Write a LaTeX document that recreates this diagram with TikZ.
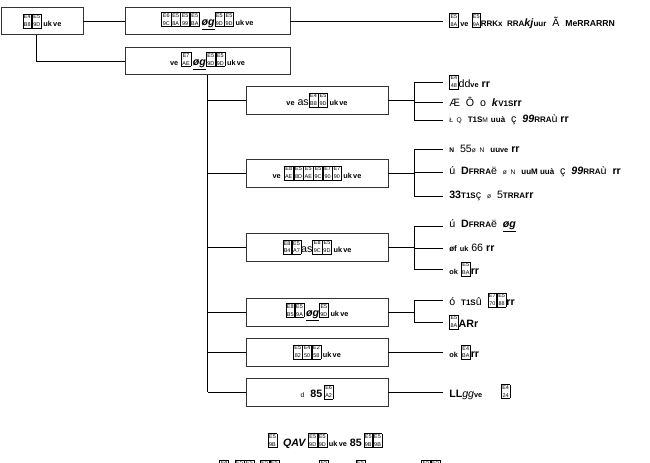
\documentclass[tikz,border=0pt]{standalone}
\usepackage{fontspec}
\setmainfont{Liberation Sans}
\setsansfont{Liberation Sans}
\newcommand{\gb}[2]{{\setlength{\fboxsep}{0.6pt}\setlength{\fboxrule}{0.4pt}\fbox{\fontsize{4.1}{3.9}\selectfont\shortstack{#1\\#2}}}}
\newcommand{\uv}{{\fontsize{5.5}{6}\selectfont\bfseries uk\,ve}}
\newcommand{\og}{\underline{\textbf{\textit{\o g}}}}
\tikzset{
  modbox/.style={draw=black!80, line width=0.6pt, minimum height=20.5pt, inner sep=0pt},
  leaf/.style={anchor=west, inner sep=0pt},
  link/.style={line width=0.6pt}
}
\begin{document}
\begin{tikzpicture}[x=0.75pt,y=-0.75pt,font=\sffamily\fontsize{8}{9}\selectfont]
        \useasboundingbox (0,0) rectangle (650,462);

        % Root and first level
        \node[modbox, minimum width=61.5pt] (root) at (42,21) {\gb{E4}{B8}\gb{E5}{9D}\,\uv};
        \node[modbox, minimum width=123.75pt] (modA) at (207.5,21) {\gb{E6}{9C}\gb{E5}{8A}\gb{E5}{99}\gb{E5}{BA}\,\og\gb{E5}{9D}\gb{E5}{9D}\,\uv};
        \node[modbox, minimum width=123.75pt] (modB) at (207.5,61) {{\fontsize{5.5}{6}\selectfont\bfseries ve}\ \gb{E7}{AE}\,\og\gb{E5}{9D}\gb{E5}{9D}\,\uv};
        \node[leaf] (leafA) at (449,21) {\gb{E5}{8A}\,{\fontsize{5.5}{6}\selectfont\bfseries ve}\ \gb{E5}{9A}{\bfseries\fontsize{6}{6}\selectfont RRKx\ \ RRA}\textbf{\textit{kj}}{\fontsize{6}{6}\selectfont\bfseries uur}\ \ \~A\ \ {\bfseries\fontsize{6.5}{7}\selectfont MeRRARRN}};

        % Submodules
        \node[modbox, minimum width=106.5pt, minimum height=21pt] (sub1) at (317,100) {{\fontsize{5.5}{6}\selectfont\bfseries ve}\ as\gb{E4}{B8}\gb{E5}{9D}\,\uv};
        \node[modbox, minimum width=106.5pt, minimum height=21pt] (sub2) at (317,173) {{\fontsize{5.5}{6}\selectfont\bfseries ve}\ \gb{E8}{AE}\gb{E5}{8D}\gb{E5}{AE}\gb{E5}{9C}\gb{E7}{90}\gb{E7}{90}\,\uv};
        \node[modbox, minimum width=106.5pt, minimum height=21pt] (sub3) at (317,247) {\gb{E8}{B4}\gb{E5}{A7}as\gb{E8}{9C}\gb{E5}{9D}\,\uv};
        \node[modbox, minimum width=106.5pt, minimum height=21pt] (sub4) at (317,312) {\gb{E8}{B5}\gb{E5}{9A}\,\og\gb{E5}{9D}\,\uv};
        \node[modbox, minimum width=106.5pt, minimum height=21pt] (sub5) at (317,352) {\gb{E5}{82}\gb{E4}{50}\gb{E2}{58}\,\uv};
        \node[modbox, minimum width=106.5pt, minimum height=21pt] (sub6) at (317,392) {{\fontsize{5}{5}\selectfont d}\ \ \textbf{85}\,\gb{E6}{A2}};

        % Leaves
        \node[leaf] (l11) at (449,82) {\gb{E4}{48}dd{\fontsize{5.5}{6}\selectfont\bfseries ve}\ \textbf{rr}};
        \node[leaf] (l12) at (449,102) {\AE\ \ \^O\ \ o\ \ \textbf{\textit{k}}{\bfseries\fontsize{6}{6}\selectfont V1S}\textbf{rr}};
        \node[leaf] (l13) at (449,120) {{\fontsize{5}{5}\selectfont \L\ \ Q}\ \ {\bfseries\fontsize{6}{6}\selectfont T1S}{\fontsize{5}{5}\selectfont M}\ {\fontsize{6}{6}\selectfont\bfseries uu\`a}\ \ \c{c}\ \ \textbf{\textit{99}}{\bfseries\fontsize{6}{6}\selectfont RRA}\`u\ \textbf{rr}};
        \node[leaf] (l21) at (449,149) {{\fontsize{5}{5}\selectfont\bfseries N}\ \ 55{\fontsize{5}{5}\selectfont\o\ \ N}\ \ {\fontsize{6}{6}\selectfont\bfseries uu}{\fontsize{5.5}{6}\selectfont\bfseries ve}\ \textbf{rr}};
        \node[leaf] (l22) at (449,172) {\'u\ \ \textbf{D}{\bfseries\fontsize{6}{6}\selectfont FRRA}\"e\ \ {\fontsize{5}{5}\selectfont\o\ \ N}\ \ {\fontsize{6}{6}\selectfont\bfseries uuM\ uu\`a}\ \ \c{c}\ \ \textbf{\textit{99}}{\bfseries\fontsize{6}{6}\selectfont RRA}\`u\ \ \textbf{rr}};
        \node[leaf] (l23) at (449,196) {\textbf{33}{\bfseries\fontsize{6}{6}\selectfont T1S}\c{c}\ \ {\fontsize{5}{5}\selectfont\o}\ \ 5{\bfseries\fontsize{6}{6}\selectfont TRRA}\textbf{rr}};
        \node[leaf] (l31) at (449,226) {\'u\ \ \textbf{D}{\bfseries\fontsize{6}{6}\selectfont FRRA}\"e\ \ \og};
        \node[leaf] (l32) at (449,248) {{\fontsize{6}{6}\selectfont\bfseries \o f}\ {\fontsize{5.5}{6}\selectfont\bfseries uk}\ 66\ \textbf{rr}};
        \node[leaf] (l33) at (449,269) {{\fontsize{5.5}{6}\selectfont\bfseries ok}\ \gb{E5}{BA}\textbf{rr}};
        \node[leaf] (l41) at (449,300) {\'o\ \ {\bfseries\fontsize{6}{6}\selectfont T1S}\^u\ \ \gb{E7}{70}\gb{E5}{88}\textbf{rr}};
        \node[leaf] (l42) at (449,322) {\gb{E5}{8A}\textbf{ARr}};
        \node[leaf] (l51) at (449,352) {{\fontsize{5.5}{6}\selectfont\bfseries ok}\ \gb{E4}{BA}\textbf{rr}};
        \node[leaf] (l61) at (449,392) {\textbf{LL}\textit{gg}{\fontsize{5.5}{6}\selectfont\bfseries ve}\hspace{14pt}\gb{E4}{24}};

        % Caption
        \node (cap) at (325,441) {\gb{E5}{9B}\ \ \textit{\textbf{QAV}}\,\gb{E5}{9D}\gb{E5}{9D}\,\uv\ \textbf{85}\,\gb{E5}{9B}\gb{E5}{9B}};
        \node (capb) at (330,467) {\gb{E4}{B8}\ \ \gb{E5}{9D}\gb{E5}{9D}\ \ \gb{E5}{9D}\gb{E5}{9D}\hspace{30pt}\gb{E5}{9D}\hspace{20pt}\gb{E5}{9D}\hspace{42pt}\gb{E5}{9D}\gb{E5}{9D}};

        % Tree lines
        \draw[link] (root) -- (modA);
        \draw[link] (modA) -- ([xshift=-4.5pt]leafA.west);
        \draw[link] ([xshift=-4.5pt]root.south) |- (modB.west);
        \draw[link] (modB.south) -- (modB.south |- sub6.west);
        \foreach \s in {sub1,sub2,sub3,sub4,sub5,sub6}
            \draw[link] (modB.south |- \s.west) -- (\s.west);

        % Brackets to leaves
        \coordinate (br) at (414,0);
        \draw[link] (sub1) -- (br |- sub1.east);
        \draw[link] (br |- l11.west) -- (br |- l13.west);
        \draw[link] (sub2) -- (br |- sub2.east);
        \draw[link] (br |- l21.west) -- (br |- l23.west);
        \draw[link] (sub3) -- (br |- sub3.east);
        \draw[link] (br |- l31.west) -- (br |- l33.west);
        \draw[link] (sub4) -- (br |- sub4.east);
        \draw[link] (br |- l41.west) -- (br |- l42.west);
        \foreach \l in {l11,l12,l13,l21,l22,l23,l31,l32,l33,l41,l42}
            \draw[link] (br |- \l.west) -- ([xshift=-4.5pt]\l.west);
        \draw[link] (sub5.east) -- ([xshift=-4.5pt]l51.west);
        \draw[link] (sub6.east) -- ([xshift=-4.5pt]l61.west);
\end{tikzpicture}
\end{document}
